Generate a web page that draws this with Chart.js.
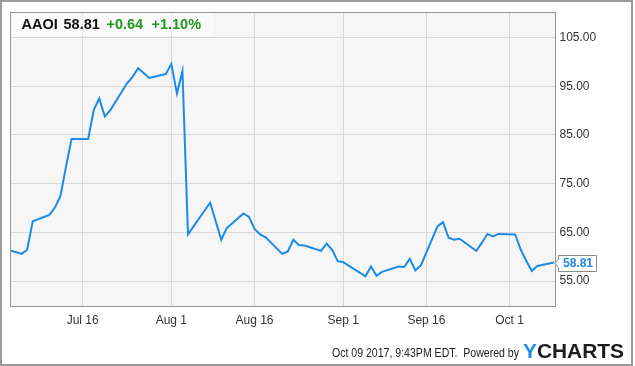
<!DOCTYPE html>
<html>
<head>
<meta charset="utf-8">
<script src="https://cdn.jsdelivr.net/npm/chart.js@4.4.0/dist/chart.umd.min.js"></script>
<style>
  html, body { margin: 0; padding: 0; background: #fff; }
  #wrap { width: 635px; height: 366px; position: relative; }
  canvas { display: block; }
</style>
</head>
<body>
<div id="wrap"><canvas id="c" width="635" height="366"></canvas></div>
<script>
// ---- data ----
const ticker = 'AAOI';
const lastPrice = '58.81';
const change = '+0.64';
const changePct = '+1.10%';
const footerText = 'Oct 09 2017, 9:43PM EDT.  Powered by';

const dates = [
  '2017-07-03','2017-07-05','2017-07-06','2017-07-07',
  '2017-07-10','2017-07-11','2017-07-12','2017-07-13','2017-07-14',
  '2017-07-17','2017-07-18','2017-07-19','2017-07-20','2017-07-21',
  '2017-07-24','2017-07-25','2017-07-26','2017-07-27','2017-07-28',
  '2017-07-31','2017-08-01','2017-08-02','2017-08-03','2017-08-04',
  '2017-08-07','2017-08-08','2017-08-09','2017-08-10','2017-08-11',
  '2017-08-14','2017-08-15','2017-08-16','2017-08-17','2017-08-18',
  '2017-08-21','2017-08-22','2017-08-23','2017-08-24','2017-08-25',
  '2017-08-28','2017-08-29','2017-08-30','2017-08-31','2017-09-01',
  '2017-09-05','2017-09-06','2017-09-07','2017-09-08',
  '2017-09-11','2017-09-12','2017-09-13','2017-09-14','2017-09-15',
  '2017-09-18','2017-09-19','2017-09-20','2017-09-21','2017-09-22',
  '2017-09-25','2017-09-26','2017-09-27','2017-09-28','2017-09-29',
  '2017-10-02','2017-10-03','2017-10-04','2017-10-05','2017-10-06',
  '2017-10-09'
];
const prices = [
  61.3, 60.6, 61.45, 67.3,
  68.6, 70.1, 72.5, 78.5, 84.2,
  84.2, 90.1, 92.5, 88.8, 90.1,
  95.6, 96.9, 98.7, 97.7, 96.7,
  97.5, 99.6, 93.5, 98.1, 64.6,
  69.5, 71.1, 67.3, 63.5, 65.9,
  68.9, 68.2, 65.7, 64.6, 64.0,
  60.6, 61.1, 63.5, 62.4, 62.3,
  61.2, 62.7, 61.45, 59.1, 58.9,
  56.0, 58.0, 56.1, 56.9,
  58.0, 57.9, 59.6, 57.2, 58.25,
  66.25, 67.1, 63.9, 63.5, 63.7,
  61.2, 62.9, 64.7, 64.2, 64.7,
  64.6, 61.5, 59.2, 57.1, 58.1,
  58.81
];
const tickDates = ['2017-07-16','2017-08-01','2017-08-16','2017-09-01','2017-09-16','2017-10-01'];
const tickLabels = ['Jul 16','Aug 1','Aug 16','Sep 1','Sep 16','Oct 1'];
const yTicks = [55, 65, 75, 85, 95, 105];

// ---- helpers ----
const ORIGIN = Date.UTC(2017, 6, 1);
function dayNum(s) {
  const p = s.split('-').map(Number);
  return (Date.UTC(p[0], p[1] - 1, p[2]) - ORIGIN) / 86400000;
}
const points = dates.map((d, i) => ({ x: dayNum(d), y: prices[i] }));
const tickDays = tickDates.map(dayNum);
const FONT = '"Liberation Sans", Arial, Helvetica, sans-serif';
const LINE_COLOR = '#1b8be6';

const decor = {
  id: 'decor',
  beforeDraw(chart) {
    const { ctx, chartArea: a } = chart;
    ctx.save();
    ctx.fillStyle = '#ffffff';
    ctx.fillRect(0, 0, chart.width, chart.height);
    ctx.fillStyle = '#f6f6f6';
    ctx.fillRect(a.left, a.top, a.right - a.left, a.bottom - a.top);
    ctx.restore();
  },
  afterDraw(chart) {
    const { ctx, chartArea: a } = chart;
    ctx.save();
    // plot border
    ctx.strokeStyle = '#959595';
    ctx.lineWidth = 1;
    ctx.strokeRect(Math.round(a.left) + 0.5, Math.round(a.top) + 0.5,
      Math.round(a.right - a.left), Math.round(a.bottom - a.top));
    // outer frame
    ctx.strokeStyle = '#9a9a9a';
    ctx.lineWidth = 2;
    ctx.strokeRect(1, 1, 631, 364);

    // header legend
    ctx.fillStyle = 'rgba(255,255,255,0.45)';
    ctx.fillRect(a.left + 1, a.top + 1, 202, 23);
    ctx.font = 'bold 14.5px ' + FONT;
    ctx.textBaseline = 'alphabetic';
    ctx.textAlign = 'left';
    ctx.fillStyle = '#111';
    ctx.fillText(ticker, 21.5, 29.3);
    ctx.fillText(lastPrice, 63.5, 29.3);
    ctx.fillStyle = '#1e9a1e';
    ctx.fillText(change, 106.5, 29.3);
    ctx.fillText(changePct, 151.5, 29.3);

    // last value tag
    const ys = chart.scales.y;
    const last = prices[prices.length - 1];
    const ty = Math.round(ys.getPixelForValue(last)) + 0.5;
    const bx = 558.5, bw = 38, bh = 16;
    ctx.beginPath();
    ctx.moveTo(a.right + 0.5, ty);
    ctx.lineTo(bx, ty - 4);
    ctx.lineTo(bx, ty - bh / 2);
    ctx.lineTo(bx + bw, ty - bh / 2);
    ctx.lineTo(bx + bw, ty + bh / 2);
    ctx.lineTo(bx, ty + bh / 2);
    ctx.lineTo(bx, ty + 4);
    ctx.closePath();
    ctx.fillStyle = '#ffffff';
    ctx.fill();
    ctx.strokeStyle = '#8a8a8a';
    ctx.lineWidth = 1;
    ctx.stroke();
    ctx.fillStyle = LINE_COLOR;
    ctx.font = 'bold 12px ' + FONT;
    ctx.textAlign = 'center';
    ctx.textBaseline = 'middle';
    ctx.fillText(last.toFixed(2), bx + bw / 2 + 0.5, ty + 0.5);

    // footer (fitted to the reference width)
    ctx.textBaseline = 'alphabetic';
    ctx.textAlign = 'left';
    ctx.font = '12px ' + FONT;
    ctx.fillStyle = '#222';
    const fw = ctx.measureText(footerText).width;
    ctx.save();
    ctx.translate(332, 357);
    ctx.scale(187 / fw, 1);
    ctx.fillText(footerText, 0, 0);
    ctx.restore();
    // logo
    ctx.font = 'bold 20px ' + FONT;
    const wY = ctx.measureText('Y').width;
    const wAll = ctx.measureText('YCHARTS').width;
    ctx.translate(523, 357.5);
    ctx.scale(101 / wAll, 1);
    ctx.fillStyle = '#1a8fe3';
    ctx.fillText('Y', 0, 0);
    ctx.fillStyle = '#1c1c1c';
    ctx.fillText('CHARTS', wY, 0);
    ctx.restore();
  }
};

new Chart(document.getElementById('c'), {
  type: 'line',
  data: {
    datasets: [{
      data: points,
      borderColor: LINE_COLOR,
      borderWidth: 2,
      pointRadius: 0,
      tension: 0,
      fill: false
    }]
  },
  options: {
    responsive: false,
    animation: false,
    devicePixelRatio: 1,
    layout: { padding: { left: 10, top: 10, right: 0, bottom: 0 } },
    plugins: { legend: { display: false }, tooltip: { enabled: false } },
    scales: {
      x: {
        type: 'linear',
        min: 1.9,
        max: 100.1,
        afterBuildTicks: s => { s.ticks = tickDays.map(v => ({ value: v })); },
        afterFit: s => { s.height = 60; },
        ticks: {
          autoSkip: false,
          maxRotation: 0,
          padding: 7,
          color: '#333',
          font: { family: FONT, size: 12 },
          callback: v => tickLabels[tickDays.indexOf(v)]
        },
        grid: { color: '#d9d9d9', lineWidth: 1, drawTicks: false },
        border: { display: false }
      },
      y: {
        position: 'right',
        min: 49.9,
        max: 110.2,
        afterBuildTicks: s => { s.ticks = yTicks.map(v => ({ value: v })); },
        afterFit: s => { s.width = 80.5; },
        ticks: {
          padding: 5,
          color: '#333',
          font: { family: FONT, size: 12 },
          callback: v => Number(v).toFixed(2)
        },
        grid: { color: '#d9d9d9', lineWidth: 1, drawTicks: false },
        border: { display: false }
      }
    }
  },
  plugins: [decor]
});
</script>
</body>
</html>
